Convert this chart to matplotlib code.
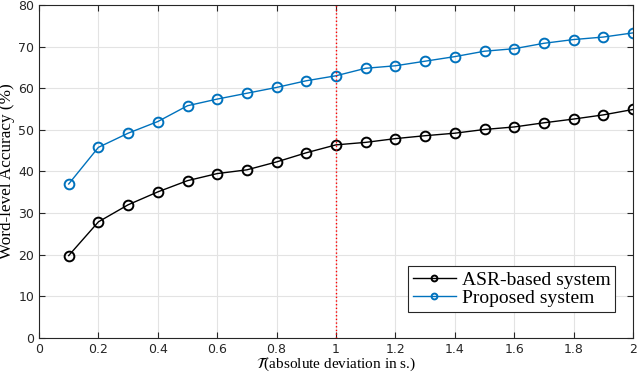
import matplotlib
matplotlib.use('Agg')
import matplotlib.pyplot as plt

# deviation threshold (s)
tau = [0.1, 0.2, 0.3, 0.4, 0.5, 0.6, 0.7, 0.8, 0.9, 1.0,
       1.1, 1.2, 1.3, 1.4, 1.5, 1.6, 1.7, 1.8, 1.9, 2.0]
asr_acc = [19.8, 27.9, 32.0, 35.1, 37.8, 39.5, 40.4, 42.3, 44.5, 46.4,
           47.0, 47.9, 48.6, 49.2, 50.1, 50.7, 51.7, 52.6, 53.6, 54.9]
proposed_acc = [37.0, 45.8, 49.2, 52.0, 55.8, 57.4, 58.8, 60.2, 61.8, 63.0,
                64.8, 65.4, 66.5, 67.6, 68.9, 69.5, 70.8, 71.7, 72.3, 73.3]
xticks = [0, 0.2, 0.4, 0.6, 0.8, 1, 1.2, 1.4, 1.6, 1.8, 2]
yticks = [0, 10, 20, 30, 40, 50, 60, 70, 80]

plt.rcParams['mathtext.fontset'] = 'stix'

fig = plt.figure(figsize=(6.4, 3.74), dpi=100)
ax = fig.add_axes([39/640, 1 - 338/374, (633 - 39)/640, (338 - 5)/374])

ax.plot(tau, asr_acc, color='black', lw=1.0, marker='o', ms=7, mfc='none', mew=1.4, label='ASR-based system')
ax.plot(tau, proposed_acc, color='#0072BD', lw=1.0, marker='o', ms=7, mfc='none', mew=1.4, label='Proposed system')
ax.axvline(1, color='red', ls=':', lw=1.0)

ax.set_xlim(0, 2)
ax.set_ylim(0, 80)
ax.set_xticks(xticks)
ax.set_xticklabels([f'{t:g}' for t in xticks])
ax.set_yticks(yticks)
ax.grid(True, color='#e3e3e3', lw=0.8)
ax.set_axisbelow(True)
ax.tick_params(direction='in', top=True, right=True, labelsize=9, colors='#262626', length=4, width=0.8)
for s in ax.spines.values():
    s.set_color('#262626')
    s.set_linewidth(0.8)

ax.set_ylabel('Word-level Accuracy (%)', family='Liberation Serif', fontsize=12.3, labelpad=2)
ax.set_xlabel(r'$\mathcal{T}$(absolute deviation in s.)', family='Liberation Serif', fontsize=11, labelpad=0)

# legend box sits just above the x axis, a bit in from the right edge
leg = ax.legend(loc='lower right', prop={'family': 'Liberation Serif', 'size': 14}, fancybox=False,
                edgecolor='#262626', framealpha=1, borderpad=0.25, handlelength=2.2, handletextpad=0.3,
                labelspacing=0.05, markerscale=0.6, borderaxespad=0, bbox_to_anchor=(0.97, 0.078))
leg.get_frame().set_linewidth(0.8)

fig.savefig('out.png', dpi=100)
